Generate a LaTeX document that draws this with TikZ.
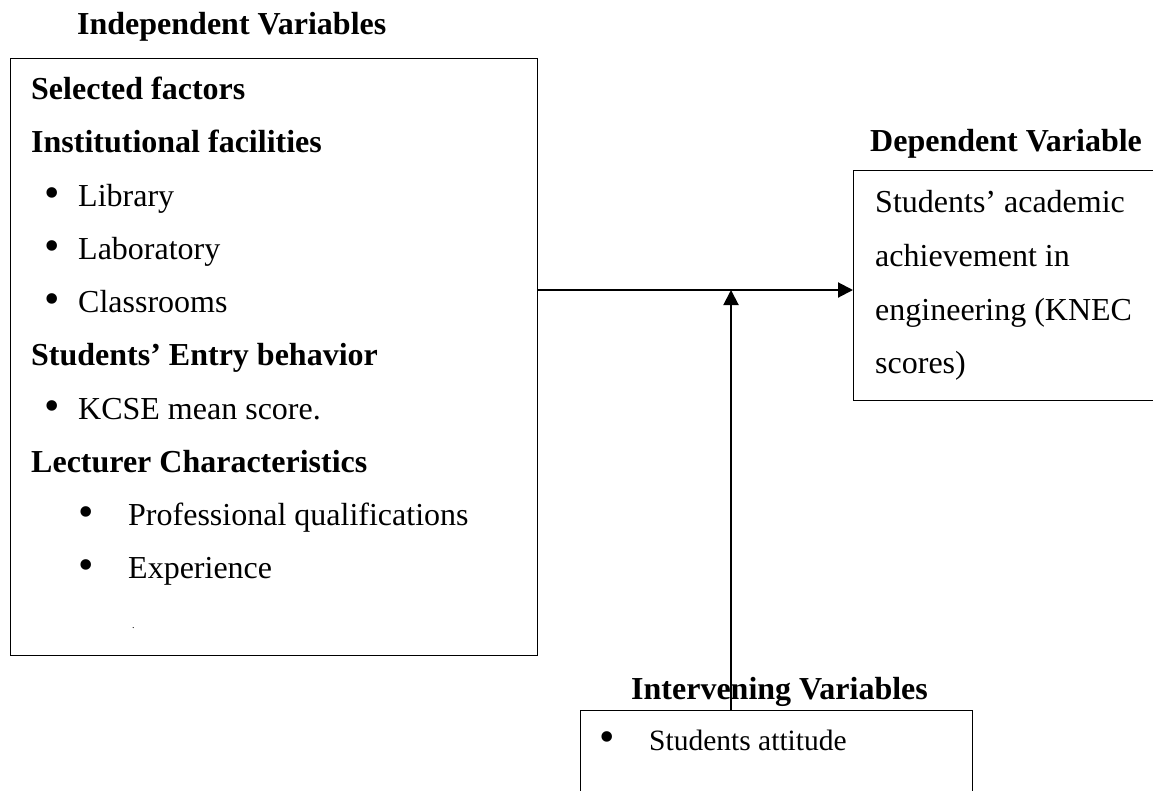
\documentclass[tikz,border=0pt]{standalone}
\usepackage{fontspec}
\setmainfont{Liberation Serif}
\usetikzlibrary{arrows.meta}
\begin{document}
\begin{tikzpicture}[x=1pt,y=-1pt,
  box/.style={draw,line width=1.4pt,rectangle,inner sep=0pt,anchor=north west},
  txt/.style={anchor=base west,inner sep=0pt,font=\fontsize{32}{38}\selectfont},
  hd/.style={txt,font=\fontsize{32}{38}\selectfont\bfseries},
  bul/.style={anchor=base,inner sep=0pt,font=\fontsize{44}{50}\selectfont},
  arr/.style={line width=2pt,-{Triangle[length=15pt,width=15pt]}}]
\useasboundingbox (0,0) rectangle (1153,790);
% boxes
\node[box,minimum width=527pt,minimum height=597pt] (indep) at (10,58) {};
\node[box,minimum width=320pt,minimum height=230pt] (dep) at (853,170) {};
\node[box,minimum width=392pt,minimum height=100pt] (interv) at (580,710) {};
% titles
\node[hd] (t1) at (77,34) {Independent Variables};
\node[hd] (t2) at (870,151) {Dependent Variable};
\node[hd] (t3) at (631,699) {Intervening Variables};
% left box content
\node[hd] (a1) at (31,99) {Selected factors};
\node[hd] (a2) at (31,152.5) {Institutional facilities};
\node[bul] (b1) at (52,207) {\textbullet};
\node[txt] (a3) at (78,206) {Library};
\node[bul] (b2) at (52,260) {\textbullet};
\node[txt] (a4) at (78,259) {Laboratory};
\node[bul] (b3) at (52,313) {\textbullet};
\node[txt] (a5) at (78,312) {Classrooms};
\node[hd] (a6) at (31,365.5) {Students’ Entry behavior};
\node[bul] (b4) at (52,420) {\textbullet};
\node[txt] (a7) at (78,419) {KCSE mean score.};
\node[hd] (a8) at (31,472) {Lecturer Characteristics};
\node[bul] (b5) at (86,526) {\textbullet};
\node[txt] (a9) at (128,525) {Professional qualifications};
\node[bul] (b6) at (86,579) {\textbullet};
\node[txt] (a10) at (128,578) {Experience};
\node[txt,font=\fontsize{10}{12}\selectfont] (a11) at (132,628) {.};
% right box content
\node[txt] (d1) at (875,212) {Students’ academic};
\node[txt] (d2) at (875,266) {achievement in};
\node[txt] (d3) at (875,320) {engineering (KNEC};
\node[txt] (d4) at (875,373) {scores)};
% bottom box content
\node[bul] (b7) at (607,751) {\textbullet};
\node[txt,font=\fontsize{29.5}{35}\selectfont] (i1) at (649,750) {Students attitude};
% connectors
\coordinate (j) at (731,290);
\draw[arr] (indep.east |- j) -- (dep.west |- j);
\draw[arr] (interv.north -| j) -- (j);
\end{tikzpicture}
\end{document}
